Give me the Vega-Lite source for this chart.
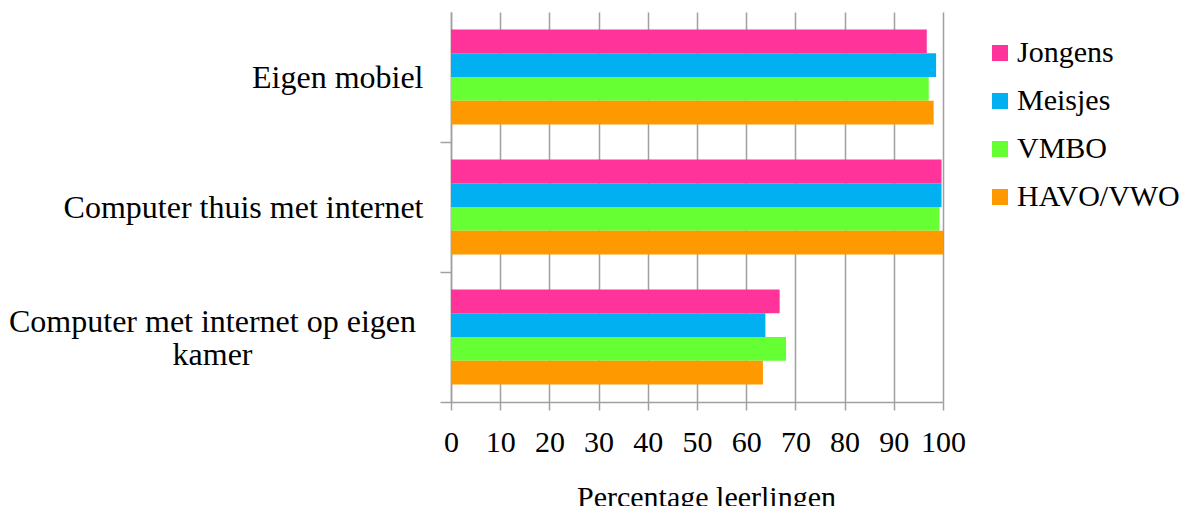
{
  "$schema": "https://vega.github.io/schema/vega-lite/v6.json",
  "autosize": "none",
  "padding": {"left": 451, "top": 12, "right": 255, "bottom": 104},
  "width": 492,
  "height": 390,
  "background": "white",
  "data": {
    "values": [
      {"item": "Eigen mobiel", "group": "Jongens", "pct": 96.7},
      {"item": "Eigen mobiel", "group": "Meisjes", "pct": 98.6},
      {"item": "Eigen mobiel", "group": "VMBO", "pct": 97.1},
      {"item": "Eigen mobiel", "group": "HAVO/VWO", "pct": 98.1},
      {"item": "Computer thuis met internet", "group": "Jongens", "pct": 99.7},
      {"item": "Computer thuis met internet", "group": "Meisjes", "pct": 99.7},
      {"item": "Computer thuis met internet", "group": "VMBO", "pct": 99.3},
      {"item": "Computer thuis met internet", "group": "HAVO/VWO", "pct": 100},
      {"item": "Computer met internet op eigen kamer", "group": "Jongens", "pct": 66.8},
      {"item": "Computer met internet op eigen kamer", "group": "Meisjes", "pct": 63.9},
      {"item": "Computer met internet op eigen kamer", "group": "VMBO", "pct": 68.1},
      {"item": "Computer met internet op eigen kamer", "group": "HAVO/VWO", "pct": 63.4}
    ]
  },
  "mark": {"type": "bar"},
  "encoding": {
    "y": {
      "field": "item",
      "type": "nominal",
      "sort": ["Eigen mobiel", "Computer thuis met internet", "Computer met internet op eigen kamer"],
      "scale": {"paddingInner": 0, "paddingOuter": 0},
      "axis": {
        "title": null,
        "tickBand": "extent",
        "grid": false,
        "domainColor": "#a0a0a0",
        "domainWidth": 1.5,
        "tickColor": "#a0a0a0",
        "tickWidth": 1.5,
        "tickSize": 11,
        "tickOpacity": {"condition": {"test": "indexof(['Eigen mobiel', 'Computer thuis met internet', 'Computer met internet op eigen kamer'], datum.value) < 0", "value": 0}, "value": 1},
        "labelFont": "Liberation Serif",
        "labelFontSize": 32,
        "labelColor": "#000000",
        "labelLimit": 0,
        "labelLineHeight": 33,
        "labelExpr": "datum.value == 'Computer met internet op eigen kamer' ? ['Computer met internet op eigen', 'kamer'] : datum.value",
        "labelAlign": {"condition": {"test": "datum.value == 'Computer met internet op eigen kamer'", "value": "center"}, "value": "right"},
        "labelPadding": {"condition": {"test": "datum.value == 'Computer met internet op eigen kamer'", "value": 228}, "value": 17},
        "labelOffset": {"condition": {"test": "datum.value == 'Computer met internet op eigen kamer'", "value": -16}, "value": 0}
      }
    },
    "yOffset": {
      "field": "group",
      "type": "nominal",
      "sort": ["Jongens", "Meisjes", "VMBO", "HAVO/VWO"],
      "scale": {"paddingInner": 0, "paddingOuter": 0.742}
    },
    "x": {
      "field": "pct",
      "type": "quantitative",
      "scale": {"domain": [0, 100], "nice": false},
      "axis": {
        "title": "Percentage leerlingen",
        "values": [0, 10, 20, 30, 40, 50, 60, 70, 80, 90, 100],
        "grid": true,
        "gridColor": "#a0a0a0",
        "gridWidth": 1.5,
        "domainColor": "#a0a0a0",
        "domainWidth": 1.5,
        "tickColor": "#a0a0a0",
        "tickWidth": 1.5,
        "tickSize": 8,
        "labelFont": "Liberation Serif",
        "labelFontSize": 30,
        "labelColor": "#000000",
        "labelBaseline": "alphabetic",
        "labelPadding": 41,
        "labelFlush": false,
        "labelOverlap": false,
        "titleFont": "Liberation Serif",
        "titleFontSize": 30,
        "titleFontWeight": "normal",
        "titleColor": "#000000",
        "titleBaseline": "alphabetic",
        "titleAlign": "center",
        "titleX": 255,
        "titleY": 104
      }
    },
    "color": {
      "field": "group",
      "type": "nominal",
      "sort": ["Jongens", "Meisjes", "VMBO", "HAVO/VWO"],
      "scale": {
        "domain": ["Jongens", "Meisjes", "VMBO", "HAVO/VWO"],
        "range": ["#ff3399", "#00b0f0", "#66ff33", "#ff9900"]
      },
      "legend": {
        "title": null,
        "orient": "none",
        "legendX": 534,
        "legendY": 26,
        "symbolType": "square",
        "symbolSize": 256,
        "symbolStrokeWidth": 0,
        "labelFont": "Liberation Serif",
        "labelFontSize": 30,
        "labelLimit": 0,
        "labelColor": "#000000",
        "labelOffset": 2,
        "rowPadding": 18
      }
    }
  },
  "config": {"view": {"stroke": null}}
}
